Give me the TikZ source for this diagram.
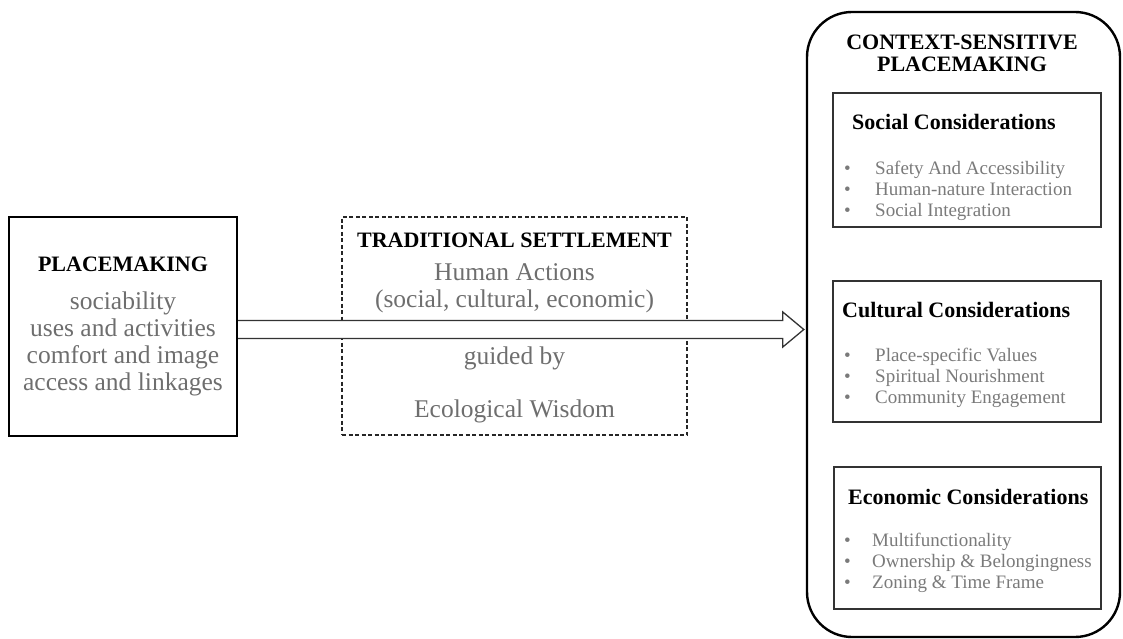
\documentclass[tikz,border=0pt]{standalone}
\usepackage{fontspec}
\setmainfont{Liberation Serif}
\usetikzlibrary{calc}

\definecolor{bodygrey}{HTML}{6E6E6E}
\definecolor{itemgrey}{HTML}{7A7A7A}
\newcommand{\headfont}{\fontsize{22}{22}\selectfont\bfseries}
\newcommand{\bodyfont}{\fontsize{25.5}{27}\selectfont}
\newcommand{\itemfont}{\fontsize{19}{21}\selectfont}
\newcommand{\bul}[1][32pt]{\makebox[#1][l]{\hspace{1pt}\textbullet}}

\begin{document}
\begin{tikzpicture}[x=1pt,y=-1pt]
  \tikzstyle{outer} = [draw, line width=2.4pt, inner sep=0pt]
  \tikzstyle{inner} = [draw=black!80, line width=1.3pt, inner sep=0pt]
  \tikzstyle{head} = [inner sep=0pt, font=\headfont]
  \tikzstyle{body} = [inner sep=0pt, font=\bodyfont, text=bodygrey, align=center]
  \tikzstyle{items} = [inner sep=0pt, font=\itemfont, text=itemgrey, align=left, anchor=west]
  \tikzstyle{bigarrow} = [draw=black!80, line width=1.3pt, fill=white, line join=miter]

  \useasboundingbox (0,0) rectangle (1123,639);

  % left: placemaking
  \node[outer, minimum width=228, minimum height=219] (place) at (123,326.5) {};
  \node[head] (placet) at (123,264) {PLACEMAKING};
  \node[body] (placeb) at (123,344) {sociability\\uses and activities\\comfort and image\\access and linkages};

  % middle: traditional settlement
  \node[draw=black!85, line width=1.5pt, dash pattern=on 4pt off 2.5pt,
        minimum width=345, minimum height=218] (settle) at (514.5,326) {};
  \node[head] (settlet) at (514.5,240) {TRADITIONAL SETTLEMENT};
  \node[body] (settleb) at (514.5,288) {Human Actions\\(social, cultural, economic)};
  \node[body] (guided) at (514.5,358) {guided by};
  \node[body] (wisdom) at (514.5,411) {Ecological Wisdom};

  % right: context-sensitive placemaking
  \node[outer, rounded corners=45pt, minimum width=313, minimum height=625] (ctx) at (963.5,324.5) {};
  \node[head, align=center] (ctxt) at (962,53) {CONTEXT-SENSITIVE\\PLACEMAKING};

  \node[inner, minimum width=268, minimum height=134] (social) at (967,160) {};
  \node[head, anchor=west] (socialt) at (852,122) {Social Considerations};
  \node[items] (sociali) at (843,190.5) {\bul Safety And Accessibility\\\bul Human-nature Interaction\\\bul Social Integration};

  \node[inner, minimum width=268, minimum height=141] (cultural) at (967,351.5) {};
  \node[head, anchor=west] (culturalt) at (842,310) {Cultural Considerations};
  \node[items] (culturali) at (843,377.5) {\bul Place-specific Values\\\bul Spiritual Nourishment\\\bul Community Engagement};

  \node[inner, minimum width=267, minimum height=142] (economic) at (967.5,538) {};
  \node[head, anchor=west] (economict) at (848,497) {Economic Considerations};
  \node[items] (economici) at (843,562.5) {\bul[29pt]Multifunctionality\\\bul[29pt]Ownership \& Belongingness\\\bul[29pt]Zoning \& Time Frame};

  % block arrow
  \coordinate (tip) at ($(ctx.west |- place.east)+(-2,3)$);
  \draw[bigarrow] ($(place.east |- tip)+(0,-9)$) -- ($(tip)+(-21,-9)$) -- ($(tip)+(-21,-17.5)$)
    -- (tip) -- ($(tip)+(-21,17.5)$) -- ($(tip)+(-21,9)$) -- ($(place.east |- tip)+(0,9)$);
\end{tikzpicture}
\end{document}
